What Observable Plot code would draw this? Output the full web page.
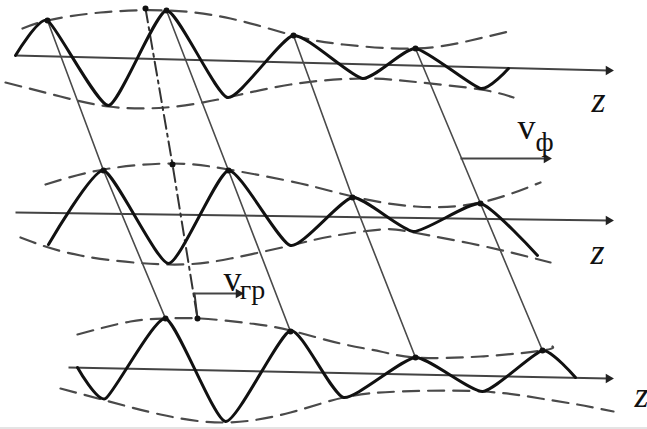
<!DOCTYPE html>
<html>
<head>
<meta charset="utf-8">
<script src="https://cdn.jsdelivr.net/npm/d3@7"></script>
<script src="https://cdn.jsdelivr.net/npm/@observablehq/plot@0.6"></script>
<style>
  html, body { margin: 0; padding: 0; background: #fff; }
  #chart svg { display: block; }
</style>
</head>
<body>
<div id="chart"></div>
<script>
// ---- values (pixel-like diagram units) ----
// z axes: [x1, y1, x2, y2]
const axes = [
  [15, 55, 608, 70],
  [15, 212, 608, 220],
  [68, 367, 608, 378]
];
// oscillating waves (peaks and troughs)
const wave1 = [[15,55],[47,20],[108,105],[166,10],[227,97],[293,35],[362,78],[415,48],[480,88],[508,68]];
const wave2 = [[48,244],[103,170],[168,263],[228,170],[290,245],[352,197],[413,231],[480,203],[537,255]];
const wave3 = [[77,367],[105,398],[165,318],[225,421],[290,330],[343,397],[415,357],[482,391],[542,350],[575,377]];
// envelopes (dashed)
const envUpper1 = [[22,28],[47,20],[100,12],[166,10],[230,18],[293,35],[343,44],[415,48],[470,40],[508,31]];
const envLower1 = [[5,82],[60,96],[108,106],[165,107],[227,97],[290,84],[362,78],[420,82],[480,89],[513,97]];
const envUpper2 = [[45,184],[103,169],[172,163],[228,169],[300,183],[352,196],[415,206],[480,202],[540,182]];
const envLower2 = [[20,237],[80,255],[168,264],[230,258],[290,245],[330,236],[380,229],[413,232],[480,245],[550,262]];
const envUpper3 = [[77,334],[130,321],[165,318],[200,318],[250,323],[290,330],[340,343],[380,351],[415,357],[480,356],[542,350],[552,346]];
const envLower3 = [[60,388],[105,400],[160,414],[225,422],[290,412],[343,397],[400,391],[482,391],[540,398],[577,404],[613,411]];
// constant-phase lines joining the crests
const phaseLines = [
  [[47,20],[103,170],[165,318]],
  [[166,10],[228,170],[290,331]],
  [[293,35],[352,197],[415,357]],
  [[415,48],[480,203],[542,350]]
];
// group line (envelope maximum)
const groupLine = [[145,8],[172,164],[197,318]];
const groupStub = [[197,318],[194,293]];
// velocity arrows: [x1, y, x2]
const arrowPhase = [460, 158, 546];
const arrowGroup = [194, 293, 238];
// text labels: [text, x, y, size, italic]
const labels = [
  ["z", 598, 100, 36, true],
  ["z", 597, 252, 36, true],
  ["z", 641, 395, 36, true],
  ["v", 526, 127, 36, false],
  ["ф", 544, 142, 28, false],
  ["v", 232, 279, 36, false],
  ["гр", 252, 290, 28, false]
];

// ---- derived tables ----
const axisTable = axes.map(([x1, y1, x2, y2]) => ({x1, y1, x2, y2}));
const arrowTable = [arrowPhase, arrowGroup].map(([x1, y, x2]) => ({x1, y1: y, x2, y2: y}));
const heads = [
  ...axes.map(([, , x2, y2]) => ({x: x2, y: y2})),
  ...[arrowPhase, arrowGroup].map(([, y, x2]) => ({x: x2, y}))
];
const crestDots = [...phaseLines.flat(), ...groupLine];
const px = d => d[0], py = d => d[1];
const serif = "'Liberation Serif', 'DejaVu Serif', serif";

const envStyle = {x: px, y: py, curve: "natural", stroke: "#4a4a4a", strokeWidth: 2.2, strokeDasharray: "16,9"};
const waveStyle = {x: px, y: py, curve: "cardinal", tension: 0.45, stroke: "#111", strokeWidth: 3, strokeLinejoin: "round", strokeLinecap: "round"};

const marks = [
  Plot.ruleY([428], {stroke: "#e4e4e4", strokeWidth: 3}),
  // axes
  Plot.link(axisTable, {x1: "x1", y1: "y1", x2: "x2", y2: "y2", stroke: "#444", strokeWidth: 2}),
  // envelopes
  ...[envUpper1, envLower1, envUpper2, envLower2, envUpper3, envLower3].map(e => Plot.line(e, envStyle)),
  // phase lines
  ...phaseLines.map(l => Plot.line(l, {x: px, y: py, stroke: "#4a4a4a", strokeWidth: 1.6})),
  // group line
  Plot.line(groupLine, {x: px, y: py, stroke: "#333", strokeWidth: 2, strokeDasharray: "14,5,3,5"}),
  Plot.line(groupStub, {x: px, y: py, stroke: "#333", strokeWidth: 2}),
  // waves
  ...[wave1, wave2, wave3].map(w => Plot.line(w, waveStyle)),
  // velocity arrows
  Plot.link(arrowTable, {x1: "x1", y1: "y1", x2: "x2", y2: "y2", stroke: "#444", strokeWidth: 2}),
  Plot.dot(heads, {x: "x", y: "y", symbol: "triangle", rotate: 90, r: 3.5, fill: "#222", stroke: "none"}),
  // crest dots
  Plot.dot(crestDots, {x: px, y: py, r: 3, fill: "#111"}),
  // labels
  ...labels.map(([t, x, y, s, it]) => Plot.text([t], {x: () => x, y: () => y, text: d => d, fontSize: s, fontFamily: serif, fontStyle: it ? "italic" : "normal", fill: "#111"}))
];

const chart = Plot.plot({
  width: 647,
  height: 429,
  margin: 0,
  x: {domain: [0, 647], axis: null},
  y: {domain: [0, 429], reverse: true, axis: null},
  style: {background: "#fff", overflow: "visible"},
  marks
});
document.getElementById("chart").append(chart);
</script>
</body>
</html>
